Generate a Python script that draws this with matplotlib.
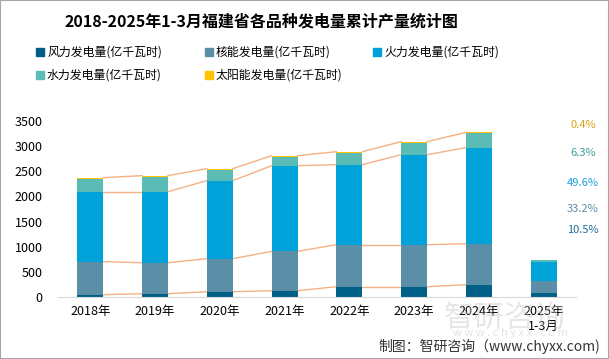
import numpy as np
import matplotlib
matplotlib.use("Agg")
import matplotlib.pyplot as plt
from matplotlib.patches import Rectangle

plt.rcParams['font.family'] = ['Noto Sans CJK SC', 'DejaVu Sans']

years = ["2018年", "2019年", "2020年", "2021年", "2022年", "2023年", "2024年", "2025年\n1-3月"]
wind = [46, 66, 105, 125, 205, 205, 245, 78]
nuclear = [656, 616, 657, 782, 835, 835, 815, 246]
thermal = [1392, 1412, 1551, 1704, 1591, 1790, 1910, 368]
hydro = [259, 299, 219, 179, 233, 239, 284, 47]
solar = [20, 20, 20, 20, 26, 20, 20, 3]
series_names = ["风力发电量(亿千瓦时)", "核能发电量(亿千瓦时)", "火力发电量(亿千瓦时)",
                "水力发电量(亿千瓦时)", "太阳能发电量(亿千瓦时)"]
colors = ["#005F86", "#5B8FA8", "#00A2D9", "#5BBBB5", "#FFC000"]
pct_labels = ["0.4%", "6.3%", "49.6%", "33.2%", "10.5%"]
pct_colors = ["#D9A31A", "#3A9E9A", "#1BA1E2", "#5B8FA8", "#1F6E99"]

fig = plt.figure(figsize=(6.09, 3.59), dpi=100)
ax = fig.add_axes([0.095, 0.1727, 0.851, 0.4903])

x = np.arange(len(years))
width = 0.40
data = [wind, nuclear, thermal, hydro, solar]
bottom = np.zeros(len(years))
tops = []
for vals, c in zip(data, colors):
    vals = np.array(vals, dtype=float)
    ax.bar(x, vals, width, bottom=bottom, color=c, zorder=2)
    bottom = bottom + vals
    tops.append(bottom.copy())

# series lines between neighbouring bars (not to the 2025 partial bar)
for idx in [0, 1, 2, 4]:
    t = tops[idx]
    for i in range(len(years) - 2):
        ax.plot([x[i] + width / 2, x[i + 1] - width / 2], [t[i], t[i + 1]],
                color="#F4B183", lw=1, zorder=1)

ax.set_xlim(-0.5, len(years) - 0.5)
ax.set_ylim(0, 3500)
ax.set_yticks(np.arange(0, 3501, 500))
ax.set_xticks(x)
ax.set_xticklabels(years, fontsize=9)
ax.tick_params(axis='y', labelsize=9, length=0, pad=11)
ax.tick_params(axis='x', length=0, pad=6)
for s in ["top", "right", "left"]:
    ax.spines[s].set_visible(False)
ax.spines["bottom"].set_color("#D9D9D9")

# percentage labels at right
pct_y = [125, 153, 183, 209, 230]
for lab, c, py in zip(pct_labels, pct_colors, pct_y):
    fig.text(583 / 609, 1 - py / 359, lab, color=c, fontsize=8, ha="center", va="center")

fig.text(261 / 609, 1 - 22 / 359, "2018-2025年1-3月福建省各品种发电量累计产量统计图",
         ha="center", va="center", fontsize=11.5, fontweight="bold")

# legend
leg_pos = [(36, 52), (205, 52), (373, 52), (36, 75), (205, 75)]
for (lx, ly), name, c in zip(leg_pos, series_names, colors):
    fig.patches.append(Rectangle((lx / 609, 1 - (ly + 4) / 359), 8 / 609, 8 / 359,
                                 transform=fig.transFigure, color=c))
    fig.text((lx + 11) / 609, 1 - ly / 359, name, fontsize=8.6, va="center", ha="left")

# watermark
fig.text(505 / 609, 1 - 318 / 359, "智研咨询", fontsize=22, color="#C8C8C8", alpha=0.45,
         ha="center", va="center", zorder=0)
fig.text(510 / 609, 1 - 333 / 359, "w w w . c h y x x . c o m", fontsize=8, color="#C8C8C8",
         alpha=0.5, ha="center", va="center", zorder=0)

fig.text(600 / 609, 1 - 346 / 359, "制图：智研咨询（www.chyxx.com)", fontsize=10,
         ha="right", va="center", color="#333333")

fig.patches.append(Rectangle((0, 0), 1, 1, transform=fig.transFigure, fill=False,
                             edgecolor="#A6A6A6", lw=1.5))

fig.savefig("out.png", dpi=100)
